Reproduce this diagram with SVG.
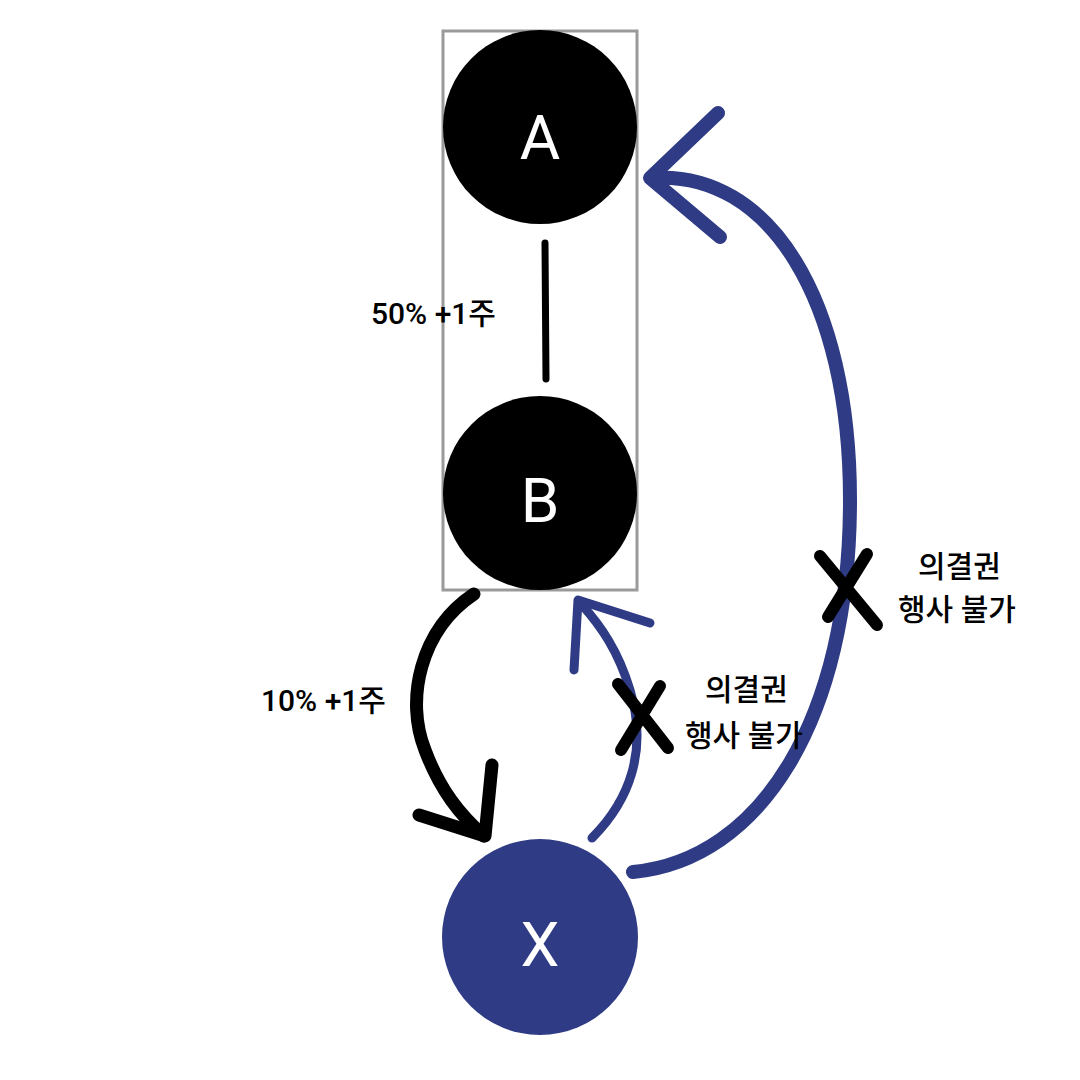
<svg xmlns="http://www.w3.org/2000/svg" width="1080" height="1080" viewBox="0 0 1080 1080">
<style>
.lbl{font-family:Roboto,"Noto Sans CJK KR",sans-serif;font-size:30px;font-weight:500;fill:#000}
.nl{font-family:Roboto,sans-serif;font-size:62px;fill:#fff;text-anchor:middle}
.k{fill:none;stroke:#000;stroke-linecap:round;stroke-linejoin:round}
.b{fill:none;stroke:#2f3c85;stroke-linecap:round;stroke-linejoin:round}
</style>
<rect width="1080" height="1080" fill="#fff"/>
<rect x="443" y="31" width="194" height="559" fill="none" stroke="#9a9a9a" stroke-width="3"/>
<g id="A"><circle cx="540" cy="127" r="97" fill="#000"/><text class="nl" x="540" y="159">A</text></g>
<g id="B"><circle cx="540" cy="493" r="97" fill="#000"/><text class="nl" x="540" y="522">B</text></g>
<g id="X"><circle cx="540" cy="937" r="98" fill="#2f3c85"/><text class="nl" x="540" y="966">X</text></g>
<g id="connectors">
<line class="k" x1="545" y1="243" x2="546" y2="379" stroke-width="7"/>
<path class="k" stroke-width="13" d="M474 594 C420 630 405 700 425 750 C440 790 460 815 484 836"/>
<path class="k" stroke-width="13" d="M492 765 L485 836 L419 815"/>
<path class="b" stroke-width="9" d="M592 838 C630 800 648 750 630 690 C618 650 600 625 582 605"/>
<path class="b" stroke-width="9" d="M574 670 L578 600 L650 623"/>
<path class="b" stroke-width="14" d="M633 872 C760 860 850 720 850 500 C850 300 770 170 652 178"/>
<path class="b" stroke-width="14" d="M718 113 L650 178 L720 237"/>
<path class="k" stroke-width="12" d="M820 556 L877 625 M867 554 L828 617"/>
<path class="k" stroke-width="12" d="M618 684 L668 748 M660 686 L621 750"/>
</g>
<text class="lbl" x="371" y="324">50% +1주</text>
<text class="lbl" x="261" y="711">10% +1주</text>
<text class="lbl" x="918" y="577">의결권</text>
<text class="lbl" x="898" y="620">행사 불가</text>
<text class="lbl" x="705" y="700">의결권</text>
<text class="lbl" x="685" y="746">행사 불가</text>
</svg>
